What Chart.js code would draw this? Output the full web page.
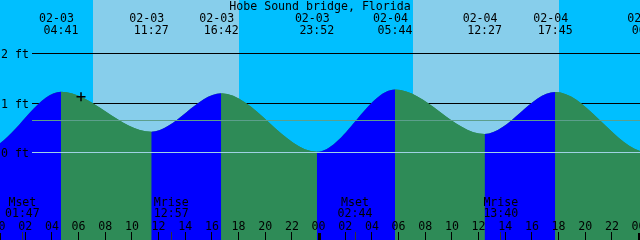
<!DOCTYPE html>
<html>
<head>
<meta charset="utf-8">
<script src="https://cdn.jsdelivr.net/npm/chart.js@4/dist/chart.umd.min.js"></script>
<style>
  html, body { margin: 0; padding: 0; background: #00bfff; }
</style>
</head>
<body>
<canvas id="tide" width="640" height="240"></canvas>
<script>
const stationName = "Hobe Sound bridge, Florida";

// hours counted from 02-03 00:00, heights in feet
const tideHours = [-7.2, -1.0, 4.683, 11.45, 16.7, 23.867, 29.733, 36.45, 41.75, 48.8, 54.8];
const tideFeet = [1.15, 0.08, 1.233, 0.425, 1.2, 0.02, 1.28, 0.38, 1.227, 0.0, 1.3];
const eventDates = ["02-03", "02-03", "02-03", "02-03", "02-04", "02-04", "02-04", "02-05"];
const eventTimes = ["04:41", "11:27", "16:42", "23:52", "05:44", "12:27", "17:45", "00:48"];

const sunriseHours = [7.1, 31.1];
const sunsetHours = [18.05, 42.05];

const moonHours = [1.783, 12.95, 26.733, 37.667];
const moonNames = ["Mset", "Mrise", "Mset", "Mrise"];
const moonTimes = ["01:47", "12:57", "02:44", "13:40"];

const feetLines = [1, 2];
const meanFeet = 0.66;
const nowHour = 6.18;
const nowFeet = 1.13;

const NIGHT = "#00bfff";
const DAY = "#87ceeb";
const RISE = "#0000ff";
const FALL = "#2e8b57";
const FONT = '11.6px "DejaVu Sans Mono"';

function hh(h) {
  return String(((h % 24) + 24) % 24).padStart(2, "0");
}

const tidePlugin = {
  id: "tide",
  beforeDatasetsDraw(chart) {
    const { ctx, chartArea: a, scales: { x, y } } = chart;
    ctx.save();
    ctx.fillStyle = NIGHT;
    ctx.fillRect(a.left, a.top, a.width, a.height);
    ctx.fillStyle = DAY;
    sunriseHours.forEach((h, i) => {
      const x0 = Math.round(x.getPixelForValue(h));
      const x1 = Math.round(x.getPixelForValue(sunsetHours[i]));
      ctx.fillRect(x0, a.top, x1 - x0, a.height);
    });
    ctx.strokeStyle = "#000";
    ctx.lineWidth = 1;
    feetLines.forEach((f) => {
      const py = Math.floor(y.getPixelForValue(f)) + 0.5;
      ctx.beginPath();
      ctx.moveTo(32, py);
      ctx.lineTo(a.right, py);
      ctx.stroke();
    });
    ctx.restore();
  },
  afterDatasetsDraw(chart) {
    const { ctx, chartArea: a, scales: { x, y } } = chart;
    ctx.save();
    ctx.lineWidth = 1;

    // mean level and datum
    const drawLevel = (f, color) => {
      const py = Math.floor(y.getPixelForValue(f)) + 0.5;
      ctx.strokeStyle = color;
      ctx.beginPath();
      ctx.moveTo(32, py);
      ctx.lineTo(a.right, py);
      ctx.stroke();
    };
    drawLevel(meanFeet, "#5c9f8c");
    drawLevel(0, "#9fd2e4");

    // hour ticks
    ctx.fillStyle = "#000";
    ctx.font = FONT;
    ctx.textAlign = "center";
    ctx.textBaseline = "alphabetic";
    for (let h = 0; h <= 48; h += 2) {
      const px = x.getPixelForValue(h);
      if (h % 24 === 0) {
        ctx.fillRect(Math.round(px) - 1, 233, 3, 7);
      } else {
        ctx.fillRect(Math.floor(px), 232, 1, 8);
      }
      ctx.fillText(hh(h), px, 229.5);
    }

    // moon
    moonHours.forEach((h, i) => {
      const px = x.getPixelForValue(h);
      ctx.fillStyle = "#333";
      ctx.fillRect(Math.floor(px), 232, 1, 8);
      ctx.fillStyle = "#000";
      ctx.fillText(moonNames[i], px, 206);
      ctx.fillText(moonTimes[i], px, 217);
    });

    // tide events on top
    eventTimes.forEach((t, i) => {
      const px = x.getPixelForValue(tideHours[i + 2]);
      ctx.fillText(eventDates[i], px - 4.5, 22);
      ctx.fillText(t, px, 34);
    });

    ctx.fillText(stationName, (a.left + a.right) / 2, 10);

    // height labels
    ctx.textAlign = "left";
    [0, 1, 2].forEach((f) => {
      const py = Math.floor(y.getPixelForValue(f));
      ctx.fillText(f + " ft", 1, py + 4.5);
    });
    ctx.restore();
  },
};

const pxPerHour = 640 / 48;
const xMin = 1.4 / pxPerHour;
const pxPerFoot = 49.5;
const zeroPx = 152.75;
const tidePoints = tideHours.map((h, i) => ({ x: h, y: tideFeet[i] }));

new Chart(document.getElementById("tide"), {
  type: "line",
  data: {
    datasets: [
      {
        data: tidePoints,
        fill: "start",
        borderColor: "transparent",
        borderWidth: 0,
        pointRadius: 0,
        cubicInterpolationMode: "monotone",
        order: 1,
        segment: {
          backgroundColor: (c) => (c.p1.parsed.y > c.p0.parsed.y ? RISE : FALL),
        },
      },
      {
        // same curve in one colour underneath, hides seams between segments
        data: tidePoints,
        fill: "start",
        backgroundColor: FALL,
        borderColor: "transparent",
        borderWidth: 0,
        pointRadius: 0,
        cubicInterpolationMode: "monotone",
        order: 2,
      },
      {
        type: "scatter",
        data: [{ x: nowHour, y: nowFeet }],
        pointStyle: "cross",
        pointRadius: 4.5,
        borderColor: "#000",
        borderWidth: 1.5,
        order: 0,
      },
    ],
  },
  options: {
    responsive: false,
    animation: false,
    layout: { padding: 0, autoPadding: false },
    plugins: { legend: { display: false }, tooltip: { enabled: false } },
    scales: {
      x: { type: "linear", min: xMin, max: xMin + 48, display: false },
      y: { min: -(240 - zeroPx) / pxPerFoot, max: zeroPx / pxPerFoot, display: false },
    },
  },
  plugins: [tidePlugin],
});
</script>
</body>
</html>
